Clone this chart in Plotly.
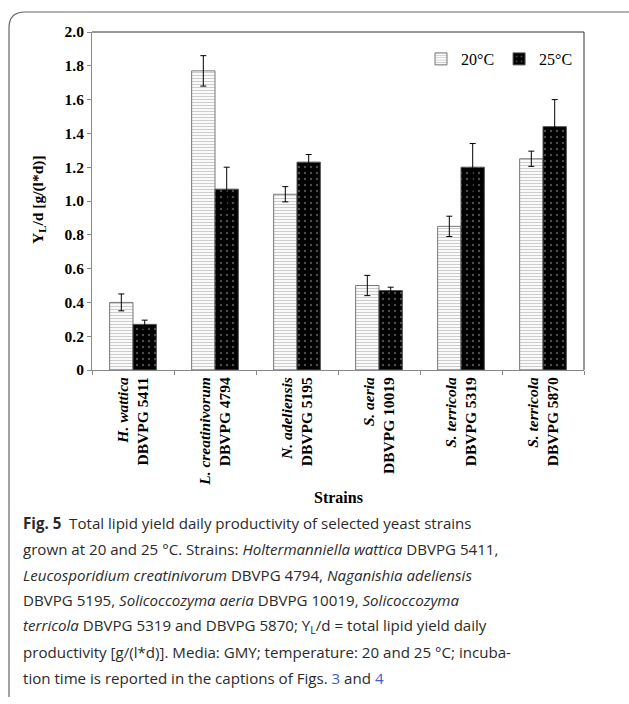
import plotly.graph_objects as go

strains = ["<i>H. wattica</i><br>DBVPG 5411", "<i>L. creatinivorum</i><br>DBVPG 4794",
           "<i>N. adeliensis</i><br>DBVPG 5195", "<i>S. aeria</i><br>DBVPG 10019",
           "<i>S. terricola</i><br>DBVPG 5319", "<i>S. terricola</i><br>DBVPG 5870"]
y20 = [0.40, 1.77, 1.04, 0.50, 0.85, 1.25]
e20 = [0.05, 0.09, 0.045, 0.06, 0.06, 0.045]
y25 = [0.27, 1.07, 1.23, 0.47, 1.20, 1.44]
e25 = [0.025, 0.13, 0.045, 0.02, 0.14, 0.16]
yticks = [0, 0.2, 0.4, 0.6, 0.8, 1.0, 1.2, 1.4, 1.6, 1.8, 2.0]
yticklabels = ["0", "0.2", "0.4", "0.6", "0.8", "1.0", "1.2", "1.4", "1.6", "1.8", "2.0"]

W, H = 629, 704
L, R, T, B = 92, 584, 32, 370

def px(x):
    return (x - L) / (R - L)

def py(y):
    return (B - y) / (B - T)

SERIF = "Liberation Serif"

fig = go.Figure()
fig.add_trace(go.Bar(
    x=strains, y=y20, name="20°C",
    marker=dict(color="white", line=dict(color="#777", width=1),
                pattern=dict(shape="-", fgcolor="#999", bgcolor="white", size=3, solidity=0.4)),
    error_y=dict(type="data", array=e20, color="black", thickness=1, width=3),
))
fig.add_trace(go.Bar(
    x=strains, y=y25, name="25°C",
    marker=dict(color="black", line=dict(color="#555", width=1),
                pattern=dict(shape=".", fgcolor="#999", bgcolor="black", size=6, solidity=0.12)),
    error_y=dict(type="data", array=e25, color="black", thickness=1, width=3),
))

fig.update_layout(
    width=W, height=H,
    margin=dict(l=L, r=W - R, t=T, b=H - B),
    paper_bgcolor="white", plot_bgcolor="white",
    barmode="group", bargap=0.43, bargroupgap=0,
    showlegend=True,
    legend=dict(orientation="h", x=px(578), xanchor="right", y=py(42), yanchor="top",
                font=dict(family=SERIF, size=16, color="black"), bgcolor="rgba(0,0,0,0)",
                itemwidth=30, tracegroupgap=0),
    xaxis=dict(tickangle=-90, tickfont=dict(family=SERIF, size=15.5, color="black", weight="bold"),
               showline=True, linecolor="#888", linewidth=1, mirror=False,
               tickson="boundaries", ticks="outside", ticklen=4, tickcolor="#888",
               showgrid=False),
    yaxis=dict(range=[0, 2.0], tickvals=yticks, ticktext=yticklabels,
               tickfont=dict(family=SERIF, size=15.5, color="black", weight="bold"),
               showline=True, linecolor="#888", linewidth=1, mirror=False,
               ticks="outside", ticklen=4, tickcolor="#888", showgrid=False, zeroline=False),
)

# plot border on top and right (dark)
fig.add_shape(type="line", xref="paper", yref="paper", x0=0, x1=1, y0=1, y1=1,
              line=dict(color="#333", width=1))
fig.add_shape(type="line", xref="paper", yref="paper", x0=1, x1=1, y0=0, y1=1,
              line=dict(color="#333", width=1))

# outer rounded frame
fx0, fy0, fx1, fy1, r = 9, 12, 640, 697, 16
path = (f"M {px(fx0)},{py(fy1)} L {px(fx0)},{py(fy0 + r)} "
        f"Q {px(fx0)},{py(fy0)} {px(fx0 + r)},{py(fy0)} L {px(fx1)},{py(fy0)}")
fig.add_shape(type="path", xref="paper", yref="paper", path=path,
              line=dict(color="#666", width=1.2))

# y axis title
fig.add_annotation(xref="paper", yref="paper", x=px(38), y=py(200), textangle=-90,
                   xanchor="center", yanchor="middle",
                   text="<b>Y<sub>L</sub>/d [g/(l*d)]</b>", showarrow=False,
                   font=dict(family=SERIF, size=15.5, color="black"))
# x axis title
fig.add_annotation(xref="paper", yref="paper", x=px(338), y=py(497),
                   xanchor="center", yanchor="middle",
                   text="<b>Strains</b>", showarrow=False,
                   font=dict(family=SERIF, size=16, color="black"))

BLUE = "#3a5fcd"
caption = [
    "<b>Fig. 5</b>  Total lipid yield daily productivity of selected yeast strains",
    "grown at 20 and 25 °C. Strains: <i>Holtermanniella wattica</i> DBVPG 5411,",
    "<i>Leucosporidium creatinivorum</i> DBVPG 4794, <i>Naganishia adeliensis</i>",
    "DBVPG 5195, <i>Solicoccozyma aeria</i> DBVPG 10019, <i>Solicoccozyma</i>",
    "<i>terricola</i> DBVPG 5319 and DBVPG 5870; Y<sub>L</sub>/d = total lipid yield daily",
    "productivity [g/(l*d)]. Media: GMY; temperature: 20 and 25 °C; incuba-",
    f"tion time is reported in the captions of Figs. <span style='color:{BLUE}'>3</span> and <span style='color:{BLUE}'>4</span>",
]
for i, line in enumerate(caption):
    fig.add_annotation(xref="paper", yref="paper", x=px(21), y=py(523 + 25.8 * i),
                       xanchor="left", yanchor="middle", text=line, showarrow=False,
                       font=dict(family="Open Sans", size=15.1, color="#2a2a2a"))

fig.write_html("out.html", config={"displayModeBar": False},
               post_script="document.body.style.margin='0';document.body.style.overflow='hidden';")
